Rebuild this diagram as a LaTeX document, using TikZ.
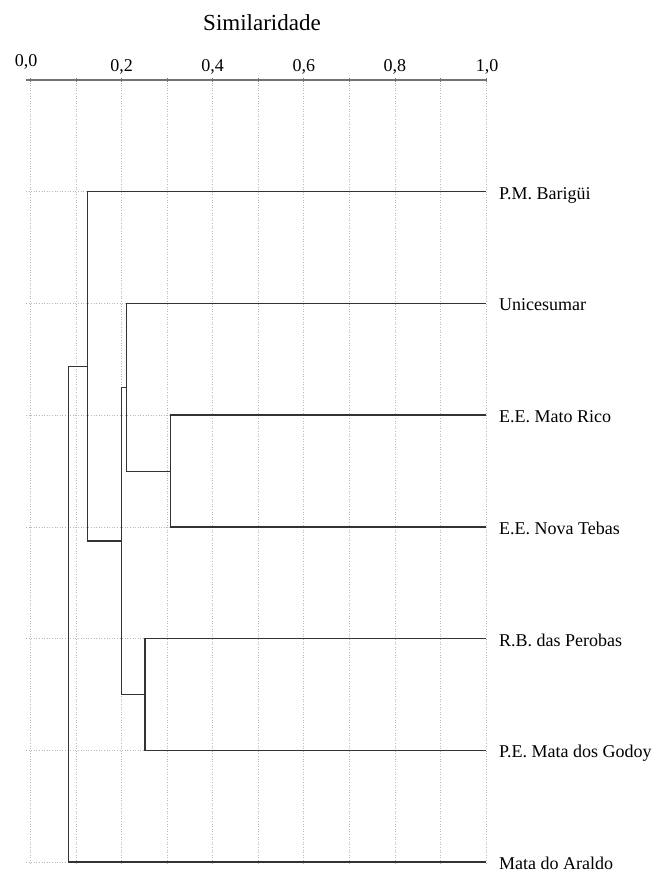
\documentclass[tikz,border=0pt]{standalone}
\usepackage{fontspec}
\setmainfont{Liberation Serif}
\begin{document}
\begin{tikzpicture}[x=1pt,y=-1pt,
  grid/.style={draw=gray!55, line width=0.8pt, dash pattern=on 1pt off 1.6pt},
  branch/.style={draw=black!80, line width=1.5pt},
  axisline/.style={draw=gray!90!black, line width=1.3pt},
  leaflabel/.style={anchor=base west, inner sep=0pt, font=\fontsize{18}{20}\selectfont},
  ticklabel/.style={anchor=base, inner sep=0pt, font=\fontsize{18}{20}\selectfont},
  titlelabel/.style={anchor=base, inner sep=0pt, font=\fontsize{23}{25}\selectfont}]
\useasboundingbox (0,0) rectangle (657,873);
% title
\node[titlelabel] (title) at (262,30) {Similaridade};
% grid verticals and tick labels
\foreach \i in {0,...,10} {
  \draw[grid] ({30.5+45.55*\i},80) -- ({30.5+45.55*\i},865);
}
\draw[axisline] (26,80) -- (486,80);
\foreach \i in {0,...,10} {
  \draw[gray!90!black, line width=0.8pt] ({30.5+45.55*\i},78) -- ({30.5+45.55*\i},82);
}
\node[ticklabel] (t0) at (26,66.5) {0,0};
\node[ticklabel] (t2) at (121.6,71.5) {0,2};
\node[ticklabel] (t4) at (212.7,71.5) {0,4};
\node[ticklabel] (t6) at (303.8,71.5) {0,6};
\node[ticklabel] (t8) at (394.9,71.5) {0,8};
\node[ticklabel] (t10) at (487,71.5) {1,0};
% leaves
\foreach \k/\n in {1/l1,2/l2,3/l3,4/l4,5/l5,6/l6,7/l7} {
  \coordinate (\n) at (486,{191.7+111.75*(\k-1)});
  \draw[grid] (26,{191.7+111.75*(\k-1)}) -- (486,{191.7+111.75*(\k-1)});
}
\node[leaflabel] (a1) at (499,199.2) {P.M. Barigüi};
\node[leaflabel] (a2) at (499,310.95) {Unicesumar};
\node[leaflabel] (a3) at (499,422.7) {E.E. Mato Rico};
\node[leaflabel] (a4) at (499,534.45) {E.E. Nova Tebas};
\node[leaflabel] (a5) at (499,646.2) {R.B. das Perobas};
\node[leaflabel] (a6) at (499,757.95) {P.E. Mata dos Godoy};
\node[leaflabel] (a7) at (499,869.7) {Mata do Araldo};
% internal nodes
\coordinate (n34) at (170.7,471.3);
\coordinate (n234) at (126.3,387.4);
\coordinate (n56) at (145,694.6);
\coordinate (n26) at (121.3,541);
\coordinate (n16) at (87.3,366.4);
\coordinate (root) at (68.3,614.3);
% branches
\draw[branch] (l3) -| (n34);
\draw[branch] (l4) -| (n34);
\draw[branch] (l2) -| (n234);
\draw[branch] (n34) -| (n234);
\draw[branch] (l5) -| (n56);
\draw[branch] (l6) -| (n56);
\draw[branch] (n234) -| (n26);
\draw[branch] (n56) -| (n26);
\draw[branch] (l1) -| (n16);
\draw[branch] (n26) -| (n16);
\draw[branch] (n16) -| (root);
\draw[branch] (l7) -| (root);
\end{tikzpicture}
\end{document}
